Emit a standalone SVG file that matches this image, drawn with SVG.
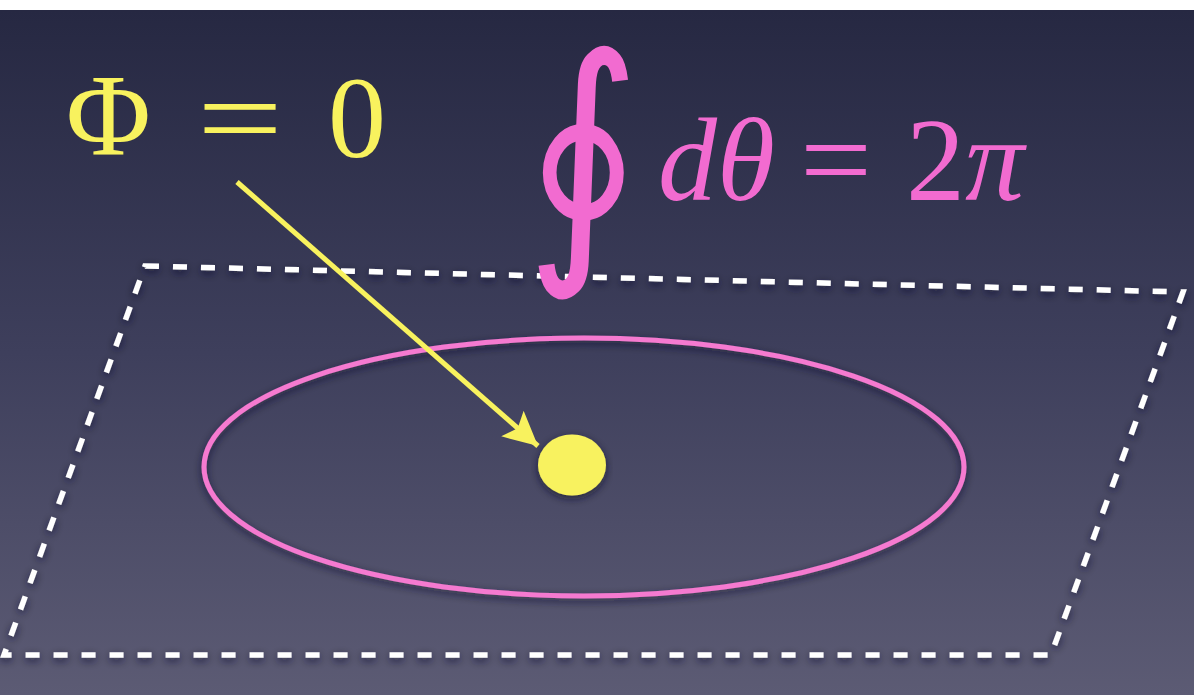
<svg xmlns="http://www.w3.org/2000/svg" width="1194" height="695" viewBox="0 0 1194 695">
  <defs>
    <linearGradient id="bg" x1="0" y1="0" x2="0" y2="1">
      <stop offset="0" stop-color="#262842"/>
      <stop offset="0.5" stop-color="#3e3f5c"/>
      <stop offset="1" stop-color="#5c5b74"/>
    </linearGradient>
    <filter id="shadow" x="-10%" y="-20%" width="120%" height="140%">
      <feGaussianBlur in="SourceAlpha" stdDeviation="4"/>
      <feOffset dx="0" dy="3" result="b"/>
      <feFlood flood-color="#14142a" flood-opacity="0.7"/>
      <feComposite in2="b" operator="in"/>
      <feMerge><feMergeNode/><feMergeNode in="SourceGraphic"/></feMerge>
    </filter>
    <marker id="arrowhead" markerUnits="userSpaceOnUse" markerWidth="40" markerHeight="36" refX="34" refY="17" orient="auto">
      <path d="M0,0 L34,17 L0,34 L7,17 Z" fill="#f8f25e"/>
    </marker>
  </defs>
  <style>
    .yellow { fill: #f8f25e; font-family: "Liberation Serif", "DejaVu Serif", serif; font-size: 116px; }
    .pink { fill: #f26bd0; font-family: "Liberation Serif", "DejaVu Serif", serif; font-size: 118px; }
    .dash { fill: none; stroke: #ffffff; stroke-width: 5.5; stroke-dasharray: 14 14; }
  </style>
  <rect x="0" y="0" width="1194" height="695" fill="#ffffff"/>
  <rect x="0" y="10" width="1194" height="685" fill="url(#bg)"/>

  <g id="plane" filter="url(#shadow)">
    <polygon class="dash" points="145,266 1183,292 1051,655 4,655"/>
  </g>

  <g id="loop" filter="url(#shadow)">
    <ellipse cx="584" cy="467" rx="380" ry="129" fill="none" stroke="#f57ad0" stroke-width="5"/>
  </g>

  <g id="point" filter="url(#shadow)">
    <ellipse cx="572" cy="465" rx="34" ry="30.5" fill="#f8f25e"/>
  </g>

  <g id="label-phi">
    <text class="yellow" x="66" y="155">Φ</text>
    <text class="yellow" x="197" y="157" textLength="86" lengthAdjust="spacingAndGlyphs">=</text>
    <text class="yellow" x="328" y="157">0</text>
  </g>

  <g id="label-integral">
    <text class="pink" transform="translate(526,244) scale(1,1.19)" x="0" y="0" style="font-family: 'DejaVu Serif', serif; font-size: 220px;">∮</text>
    <text class="pink" x="658" y="200" font-style="italic">dθ</text>
    <text class="pink" x="800" y="200" textLength="72" lengthAdjust="spacingAndGlyphs">=</text>
    <text class="pink" x="906" y="200">2<tspan font-style="italic">π</tspan></text>
  </g>

  <g id="connectors">
    <line x1="237" y1="182" x2="538" y2="446" stroke="#f8f25e" stroke-width="5" marker-end="url(#arrowhead)"/>
  </g>
</svg>
